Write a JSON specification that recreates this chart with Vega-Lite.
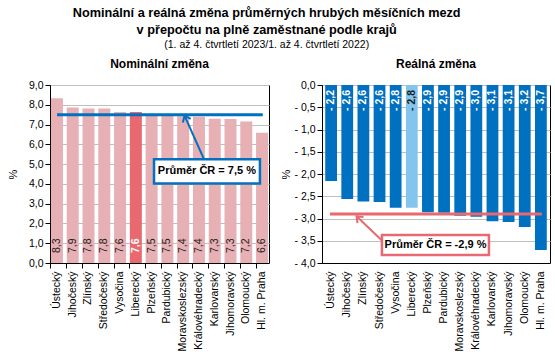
{
  "$schema": "https://vega.github.io/schema/vega-lite/v6.json",
  "padding": {"left": 6, "top": 7, "right": 5, "bottom": 2},
  "title": {
    "text": ["Nominální a reálná změna průměrných hrubých měsíčních mezd", "v přepočtu na plně zaměstnané podle krajů"],
    "subtitle": "(1. až 4. čtvrtletí 2023/1. až 4. čtvrtletí 2022)",
    "anchor": "middle", "fontSize": 12.7, "fontWeight": "bold", "lineHeight": 17,
    "subtitleFontSize": 10.5, "subtitlePadding": 3, "offset": 7, "dx": -12,
    "color": "#000", "subtitleColor": "#000"
  },
  "datasets": {
    "kraje": [
      {"kraj": "Ústecký", "nom": 8.33, "real": -2.16, "hl": false},
      {"kraj": "Jihočeský", "nom": 7.86, "real": -2.56, "hl": false},
      {"kraj": "Zlínský", "nom": 7.81, "real": -2.62, "hl": false},
      {"kraj": "Středočeský", "nom": 7.81, "real": -2.63, "hl": false},
      {"kraj": "Vysočina", "nom": 7.64, "real": -2.76, "hl": false},
      {"kraj": "Liberecký", "nom": 7.64, "real": -2.76, "hl": true},
      {"kraj": "Plzeňský", "nom": 7.52, "real": -2.86, "hl": false},
      {"kraj": "Pardubický", "nom": 7.48, "real": -2.87, "hl": false},
      {"kraj": "Moravskoslezský", "nom": 7.42, "real": -2.94, "hl": false},
      {"kraj": "Královéhradecký", "nom": 7.4, "real": -2.96, "hl": false},
      {"kraj": "Karlovarský", "nom": 7.29, "real": -3.06, "hl": false},
      {"kraj": "Jihomoravský", "nom": 7.28, "real": -3.08, "hl": false},
      {"kraj": "Olomoucký", "nom": 7.16, "real": -3.19, "hl": false},
      {"kraj": "Hl. m. Praha", "nom": 6.59, "real": -3.71, "hl": false}
    ],
    "prumer": [{"nom": 7.5, "real": -2.9}]
  },
  "spacing": 10,
  "hconcat": [
    {
      "width": 219, "height": 178,
      "title": {"text": "Nominální změna"},
      "layer": [
        {
          "data": {"name": "kraje"},
          "layer": [
            {
              "mark": {"type": "bar"},
              "encoding": {
                "x": {"field": "kraj", "type": "nominal", "sort": null,
                  "scale": {"domain": ["Ústecký","Jihočeský","Zlínský","Středočeský","Vysočina","Liberecký","Plzeňský","Pardubický","Moravskoslezský","Královéhradecký","Karlovarský","Jihomoravský","Olomoucký","Hl. m. Praha"], "paddingInner": 0.24, "paddingOuter": 0.06},
                  "axis": {"title": null, "labelAngle": 270, "ticks": true, "bandPosition": 0, "labelPadding": 3, "grid": false}},
                "y": {"field": "nom", "type": "quantitative", "title": "%",
                  "scale": {"domain": [0, 9], "nice": false},
                  "axis": {"values": [0,1,2,3,4,5,6,7,8,9], "tickCount": 10, "labelOverlap": false, "labelBound": false, "format": ".1f", "titlePadding": 10}},
                "color": {"condition": {"test": "datum.hl", "value": "#E8696F"}, "value": "#E6B0B4"}
              }
            },
            {
              "mark": {"type": "text", "angle": 270, "align": "left", "baseline": "middle", "dx": 10, "fontSize": 10.5, "color": "#1a1a1a"},
              "encoding": {
                "x": {"field": "kraj", "type": "nominal", "sort": null},
                "y": {"datum": 0, "type": "quantitative", "title": "%"},
                "text": {"field": "nom", "type": "quantitative", "format": ".1f"},
                "opacity": {"condition": {"test": "datum.hl", "value": 0}, "value": 1}
              }
            },
            {
              "mark": {"type": "text", "angle": 270, "align": "left", "baseline": "middle", "dx": 10, "fontSize": 10.5, "fontWeight": "bold", "color": "#ffffff"},
              "encoding": {
                "x": {"field": "kraj", "type": "nominal", "sort": null},
                "y": {"datum": 0, "type": "quantitative", "title": "%"},
                "text": {"field": "nom", "type": "quantitative", "format": ".1f"},
                "opacity": {"condition": {"test": "datum.hl", "value": 1}, "value": 0}
              }
            }
          ]
        },
        {
          "data": {"name": "prumer"},
          "layer": [
            {
              "mark": {"type": "rule", "color": "#0070C0", "strokeWidth": 3},
              "encoding": {
                "x": {"datum": 0.45, "type": "quantitative", "scale": {"domain": [0, 14], "nice": false, "zero": false}, "axis": null},
                "x2": {"datum": 13.6},
                "y": {"field": "nom", "type": "quantitative", "title": "%"}
              }
            },
            {
              "mark": {"type": "rule", "color": "#0070C0", "strokeWidth": 2},
              "encoding": {
                "x": {"datum": 9.85, "type": "quantitative"},
                "x2": {"datum": 8.6},
                "y": {"datum": 5.24, "type": "quantitative", "title": "%"},
                "y2": {"datum": 7.45}
              }
            },
            {
              "mark": {"type": "point", "shape": "M-0.7,0.9L0,0L0.7,0.9", "filled": false, "color": "#0070C0", "strokeWidth": 2, "size": 150, "angle": -24, "opacity": 1},
              "encoding": {
                "x": {"datum": 8.6, "type": "quantitative"},
                "y": {"datum": 7.45, "type": "quantitative", "title": "%"}
              }
            },
            {
              "mark": {"type": "rect", "fill": "#ffffff", "stroke": "#0070C0", "strokeWidth": 2.5},
              "encoding": {
                "x": {"datum": 6.65, "type": "quantitative"},
                "x2": {"datum": 13.42},
                "y": {"datum": 4.02, "type": "quantitative", "title": "%"},
                "y2": {"datum": 5.24}
              }
            },
            {
              "mark": {"type": "text", "fontSize": 11, "fontWeight": "bold", "color": "#000", "align": "center", "baseline": "middle"},
              "encoding": {
                "x": {"datum": 10.03, "type": "quantitative"},
                "y": {"datum": 4.63, "type": "quantitative", "title": "%"},
                "text": {"value": "Průměr ČR = 7,5 %"}
              }
            }
          ]
        }
      ],
      "resolve": {"scale": {"x": "independent"}}
    },
    {
      "width": 228, "height": 178,
      "title": {"text": "Reálná změna"},
      "layer": [
        {
          "data": {"name": "kraje"},
          "layer": [
            {
              "mark": {"type": "bar"},
              "encoding": {
                "x": {"field": "kraj", "type": "nominal", "sort": null,
                  "scale": {"domain": ["Ústecký","Jihočeský","Zlínský","Středočeský","Vysočina","Liberecký","Plzeňský","Pardubický","Moravskoslezský","Královéhradecký","Karlovarský","Jihomoravský","Olomoucký","Hl. m. Praha"], "paddingInner": 0.27, "paddingOuter": 0.2},
                  "axis": {"title": null, "labelAngle": 270, "ticks": false, "labelPadding": 8, "grid": false}},
                "y": {"field": "real", "type": "quantitative", "title": "%",
                  "scale": {"domain": [-4, 0], "nice": false},
                  "axis": {"values": [-4,-3.5,-3,-2.5,-2,-1.5,-1,-0.5,0], "tickCount": 9, "labelOverlap": false, "labelBound": false, "format": ".1f", "titlePadding": 2}},
                "color": {"condition": {"test": "datum.hl", "value": "#84C5EE"}, "value": "#0070C0"}
              }
            },
            {
              "mark": {"type": "text", "angle": 270, "align": "right", "baseline": "middle", "dx": -5, "fontSize": 10.5, "fontWeight": "bold"},
              "encoding": {
                "x": {"field": "kraj", "type": "nominal", "sort": null},
                "y": {"datum": 0, "type": "quantitative", "title": "%"},
                "text": {"field": "real", "type": "quantitative", "format": ".1f"},
                "color": {"condition": {"test": "datum.hl", "value": "#1a1a1a"}, "value": "#ffffff"}
              }
            }
          ]
        },
        {
          "data": {"name": "prumer"},
          "layer": [
            {
              "mark": {"type": "rule", "color": "#E8696F", "strokeWidth": 3},
              "encoding": {
                "x": {"datum": 0.49, "type": "quantitative", "scale": {"domain": [0, 14], "nice": false, "zero": false}, "axis": null},
                "x2": {"datum": 13.5},
                "y": {"field": "real", "type": "quantitative", "title": "%"}
              }
            },
            {
              "mark": {"type": "rule", "color": "#E8696F", "strokeWidth": 2},
              "encoding": {
                "x": {"datum": 3.7, "type": "quantitative"},
                "x2": {"datum": 2.12},
                "y": {"datum": -3.5, "type": "quantitative", "title": "%"},
                "y2": {"datum": -2.95}
              }
            },
            {
              "mark": {"type": "point", "shape": "M-0.7,0.9L0,0L0.7,0.9", "filled": false, "color": "#E8696F", "strokeWidth": 2, "size": 150, "angle": -46, "opacity": 1},
              "encoding": {
                "x": {"datum": 2.12, "type": "quantitative"},
                "y": {"datum": -2.95, "type": "quantitative", "title": "%"}
              }
            },
            {
              "mark": {"type": "rect", "fill": "#ffffff", "stroke": "#E8696F", "strokeWidth": 2.5},
              "encoding": {
                "x": {"datum": 3.68, "type": "quantitative"},
                "x2": {"datum": 10.25},
                "y": {"datum": -3.37, "type": "quantitative", "title": "%"},
                "y2": {"datum": -3.82}
              }
            },
            {
              "mark": {"type": "text", "fontSize": 11, "fontWeight": "bold", "color": "#000", "align": "center", "baseline": "middle"},
              "encoding": {
                "x": {"datum": 6.97, "type": "quantitative"},
                "y": {"datum": -3.595, "type": "quantitative", "title": "%"},
                "text": {"value": "Průměr ČR = -2,9 %"}
              }
            }
          ]
        }
      ],
      "resolve": {"scale": {"x": "independent"}}
    }
  ],
  "config": {
    "font": "Liberation Sans",
    "view": {"stroke": "#000", "strokeWidth": 1},
    "axis": {"labelFontSize": 10.5, "labelColor": "#000", "titleFontSize": 11, "titleFontWeight": "normal", "titleColor": "#000", "domainColor": "#000", "tickColor": "#000", "gridColor": "#BFBFBF", "tickSize": 5},
    "title": {"fontSize": 12, "fontWeight": "bold", "color": "#000", "offset": 9},
    "locale": {"number": {"decimal": ",", "thousands": " ", "grouping": [3], "currency": ["", " Kč"], "minus": "- "}}
  }
}
